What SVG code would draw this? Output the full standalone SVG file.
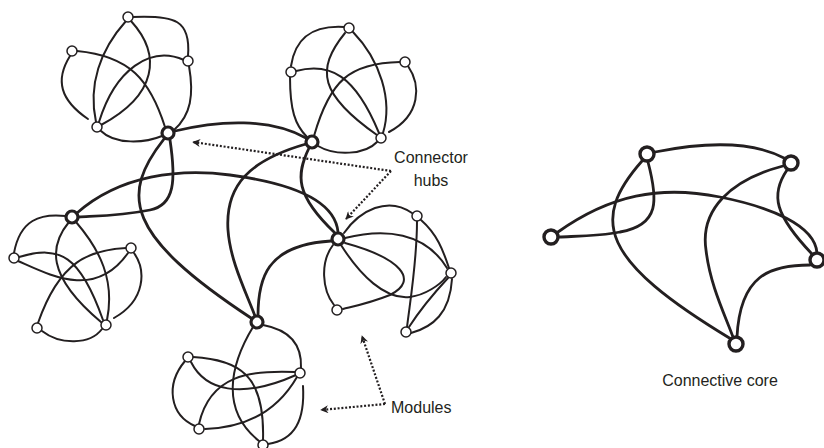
<svg xmlns="http://www.w3.org/2000/svg" width="824" height="448" viewBox="0 0 824 448">
  <style>
    .e { fill: none; stroke: #231f20; stroke-width: 2; stroke-linecap: round; }
    .h { fill: none; stroke: #231f20; stroke-width: 2.8; stroke-linecap: round; }
    .n { fill: #fff; stroke: #231f20; stroke-width: 1.5; }
    .hub { fill: #fff; stroke: #231f20; stroke-width: 3.2; }
    .core { fill: #fff; stroke: #231f20; stroke-width: 3.4; }
    .dot { fill: none; stroke: #231f20; stroke-width: 2.2; stroke-dasharray: 2 1.8; }
    .lbl { font-family: "Liberation Sans", Arial, sans-serif; font-size: 16px; fill: #231f20; }
  </style>
  <defs>
    <!-- barbed arrowhead for the dotted callouts -->
    <marker id="tip" viewBox="0 0 10 10" refX="9" refY="5" markerWidth="9" markerHeight="8" orient="auto" markerUnits="userSpaceOnUse">
      <path d="M0,0 L10,5 L0,10 L3,5 Z" fill="#231f20"/>
    </marker>
  </defs>

  <!-- connectors -->
  <g id="connectors">
    <!-- module A (top left) -->
    <path class="e" d="M132,17 C175,15 191,20 188,56"/>
    <path class="e" d="M131,21 C162,55 157,95 101,125"/>
    <path class="e" d="M126,21 C100,50 88,85 96,122"/>
    <path class="e" d="M77,51 C130,56 150,80 165,127"/>
    <path class="e" d="M70,56 C55,80 60,100 88,119"/>
    <path class="e" d="M184,60 C150,45 115,70 99,122"/>
    <path class="e" d="M189,66 C194,95 191,115 174,130"/>
    <path class="e" d="M101,131 C115,145 145,143 162,136"/>

    <!-- module B (top right) -->
    <path class="e" d="M344,27 C310,25 295,40 291,66"/>
    <path class="e" d="M345,33 C315,70 320,95 377,135"/>
    <path class="e" d="M353,32 C380,60 393,100 383,133"/>
    <path class="e" d="M296,71 C330,62 355,75 379,133"/>
    <path class="e" d="M400,62 C350,63 330,80 314,136"/>
    <path class="e" d="M290,77 C290,110 295,125 307,137"/>
    <path class="e" d="M408,66 C421,85 421,115 389,132"/>
    <path class="e" d="M318,146 C335,156 365,155 377,142"/>

    <!-- module C (left) -->
    <path class="e" d="M66,216 C40,213 20,220 14,253"/>
    <path class="e" d="M18,261 C50,275 95,300 128,253"/>
    <path class="e" d="M19,257 C60,245 80,255 103,320"/>
    <path class="e" d="M126,248 C90,250 60,260 38,323"/>
    <path class="e" d="M76,222 C100,250 115,280 107,320"/>
    <path class="e" d="M69,222 C50,245 45,275 101,322"/>
    <path class="e" d="M42,331 C60,345 90,345 102,329"/>
    <path class="e" d="M134,253 C146,270 146,300 114,318"/>

    <!-- module D (middle right) -->
    <path class="e" d="M344,233 C360,210 388,196 412,213"/>
    <path class="e" d="M345,238 C385,228 425,232 447,268"/>
    <path class="e" d="M345,243 C400,258 420,280 390,295 C370,303 355,306 343,309"/>
    <path class="e" d="M341,245 C360,275 385,300 410,297 C425,295 440,285 446,277"/>
    <path class="e" d="M333,245 C320,262 322,290 334,305"/>
    <path class="e" d="M417,221 C417,260 411,295 407,327"/>
    <path class="e" d="M421,220 C437,234 443,250 449,268"/>
    <path class="e" d="M409,327 C420,310 435,292 448,278"/>
    <path class="e" d="M411,333 C433,327 450,313 452,279"/>

    <!-- module E (bottom) -->
    <path class="e" d="M263,325 C290,330 302,345 301,368"/>
    <path class="e" d="M253,327 C230,365 220,410 259,441"/>
    <path class="e" d="M193,357 C240,360 265,375 263,440"/>
    <path class="e" d="M191,362 C205,390 240,400 296,375"/>
    <path class="e" d="M185,361 C165,385 170,415 195,426"/>
    <path class="e" d="M295,372 C250,370 210,375 199,424"/>
    <path class="e" d="M205,429 C240,428 275,415 297,377"/>
    <path class="e" d="M303,386 C305,420 295,440 268,444"/>

    <!-- links between hubs -->
    <path class="h" d="M175,131 C220,120 270,118 306,138"/>
    <path class="h" d="M170,140 C176,180 175,205 150,210 C120,216 95,216 79,217"/>
    <path class="h" d="M164,139 C120,195 125,235 251,318"/>
    <path class="h" d="M77,213 C120,175 180,168 230,175 C290,183 335,200 338,232"/>
    <path class="h" d="M306,144 C250,160 225,185 228,230 C230,260 245,290 255,316"/>
    <path class="h" d="M309,148 C296,175 295,195 335,233"/>
    <path class="h" d="M258,316 C258,280 265,245 331,241"/>

    <!-- connective core -->
    <path class="h" d="M655,152 C700,143 750,140 784,158"/>
    <path class="h" d="M648,162 C658,200 660,225 620,232 C600,236 580,236 559,237"/>
    <path class="h" d="M642,161 C590,220 600,260 731,339"/>
    <path class="h" d="M558,232 C610,195 660,185 720,197 C770,207 815,225 817,253"/>
    <path class="h" d="M783,166 C730,180 700,210 706,250 C710,285 725,315 733,337"/>
    <path class="h" d="M787,170 C770,195 775,215 812,254"/>
    <path class="h" d="M810,265 C770,265 740,275 737,337"/>

    <!-- callout arrows -->
    <path class="dot" d="M391,171 L193,142" marker-end="url(#tip)"/>
    <path class="dot" d="M391,171 L346,219" marker-end="url(#tip)"/>
    <path class="dot" d="M385,404 L362,336" marker-end="url(#tip)"/>
    <path class="dot" d="M385,404 L321,410" marker-end="url(#tip)"/>
  </g>

  <!-- module A -->
  <g id="module-a">
    <circle class="n" cx="128" cy="17" r="5"/>
    <circle class="n" cx="72" cy="51" r="5"/>
    <circle class="n" cx="188" cy="61" r="5"/>
    <circle class="n" cx="97" cy="127" r="5"/>
  </g>
  <g id="hub-a"><circle class="hub" cx="168" cy="133" r="6"/></g>

  <!-- module B -->
  <g id="module-b">
    <circle class="n" cx="349" cy="28" r="5"/>
    <circle class="n" cx="291" cy="72" r="5"/>
    <circle class="n" cx="405" cy="62" r="5"/>
    <circle class="n" cx="381" cy="138" r="5"/>
  </g>
  <g id="hub-b"><circle class="hub" cx="312" cy="142" r="6"/></g>

  <!-- module C -->
  <g id="module-c">
    <circle class="n" cx="14" cy="258" r="5"/>
    <circle class="n" cx="131" cy="248" r="5"/>
    <circle class="n" cx="37" cy="328" r="5"/>
    <circle class="n" cx="106" cy="325" r="5"/>
  </g>
  <g id="hub-c"><circle class="hub" cx="72" cy="217" r="6"/></g>

  <!-- module D -->
  <g id="module-d">
    <circle class="n" cx="417" cy="216" r="5"/>
    <circle class="n" cx="451" cy="273" r="5"/>
    <circle class="n" cx="337" cy="310" r="5"/>
    <circle class="n" cx="406" cy="332" r="5"/>
  </g>
  <g id="hub-d"><circle class="hub" cx="338" cy="239" r="6"/></g>

  <!-- module E -->
  <g id="module-e">
    <circle class="n" cx="188" cy="357" r="5"/>
    <circle class="n" cx="300" cy="373" r="5"/>
    <circle class="n" cx="199" cy="429" r="5"/>
    <circle class="n" cx="263" cy="445" r="5"/>
  </g>
  <g id="hub-e"><circle class="hub" cx="257" cy="322" r="6"/></g>

  <!-- connective core nodes -->
  <g id="core-1"><circle class="core" cx="647" cy="154" r="7"/></g>
  <g id="core-2"><circle class="core" cx="791" cy="163" r="7"/></g>
  <g id="core-3"><circle class="core" cx="551" cy="237" r="7"/></g>
  <g id="core-4"><circle class="core" cx="817" cy="260" r="7"/></g>
  <g id="core-5"><circle class="core" cx="736" cy="344" r="7"/></g>

  <!-- labels -->
  <g id="labels">
    <text class="lbl" x="431" y="163" text-anchor="middle">Connector</text>
    <text class="lbl" x="431" y="186" text-anchor="middle">hubs</text>
    <text class="lbl" x="391" y="413">Modules</text>
    <text class="lbl" x="720" y="386" text-anchor="middle">Connective core</text>
  </g>
</svg>
